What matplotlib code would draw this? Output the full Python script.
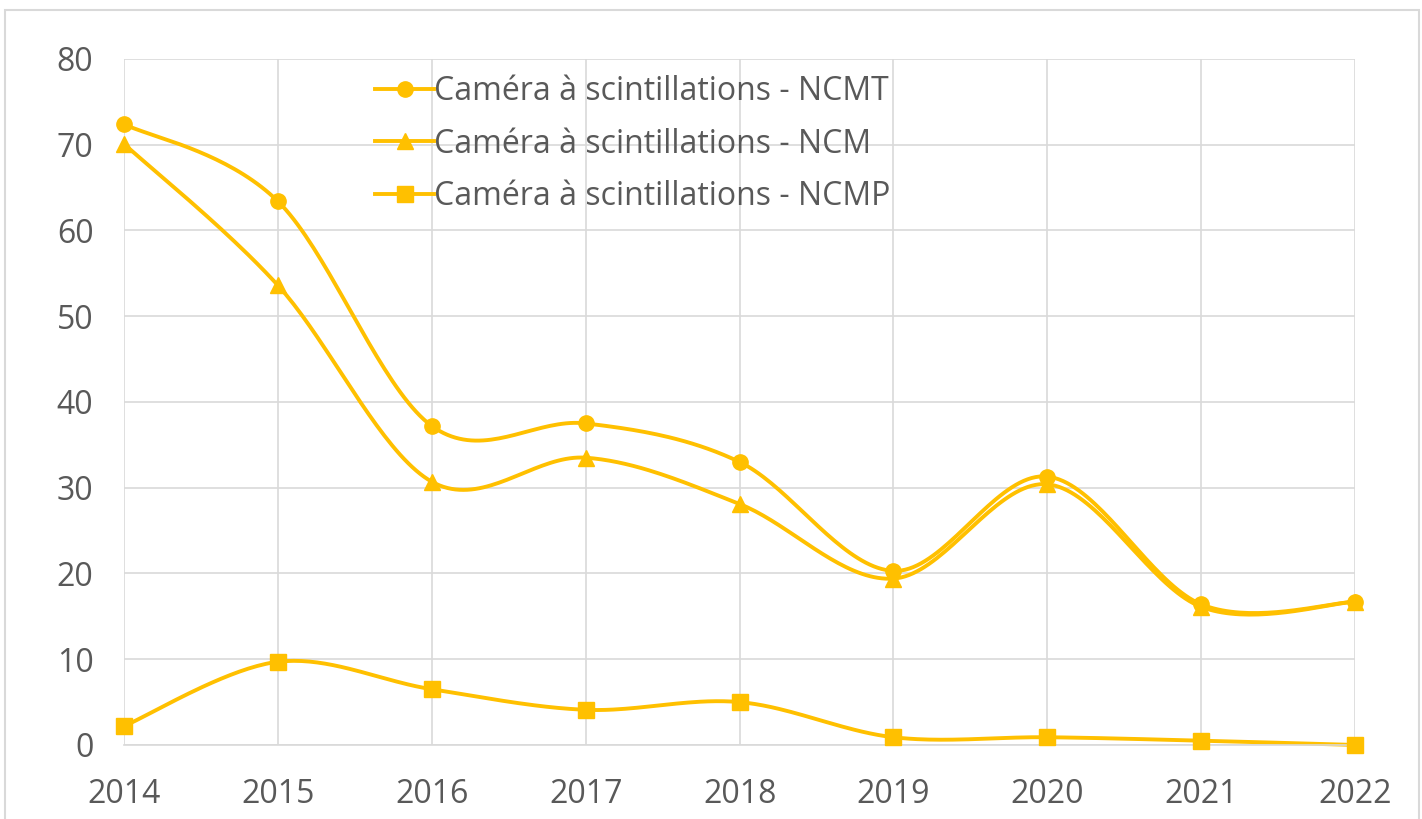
import numpy as np
import matplotlib.pyplot as plt
from matplotlib.patches import Rectangle

# data
years = [2014, 2015, 2016, 2017, 2018, 2019, 2020, 2021, 2022]
ncmt = [72.4, 63.4, 37.2, 37.5, 33.0, 20.3, 31.3, 16.4, 16.7]
ncm = [70.1, 53.6, 30.7, 33.5, 28.1, 19.4, 30.4, 16.1, 16.7]
ncmp = [2.2, 9.7, 6.5, 4.1, 5.0, 0.9, 0.9, 0.5, 0.0]
labels = ["Caméra à scintillations - NCMT",
          "Caméra à scintillations - NCM",
          "Caméra à scintillations - NCMP"]
yticks = [0, 10, 20, 30, 40, 50, 60, 70, 80]

COLOR = "#FFC000"
TEXT = "#595959"
GRID = "#D9D9D9"
plt.rcParams["font.family"] = ["Open Sans", "DejaVu Sans"]


def smooth(x, y, n=40):
    # Excel-like smoothed line: cubic bezier segments, catmull-rom style controls
    x = np.asarray(x, float)
    y = np.asarray(y, float)
    px = np.concatenate([[x[0]], x, [x[-1]]])
    py = np.concatenate([[y[0]], y, [y[-1]]])
    t = np.linspace(0, 1, n)[:, None]
    xs, ys = [], []
    for i in range(1, len(px) - 2):
        p0 = np.array([px[i], py[i]])
        p3 = np.array([px[i + 1], py[i + 1]])
        c1 = p0 + (p3 - np.array([px[i - 1], py[i - 1]])) / 6
        c2 = p3 - (np.array([px[i + 2], py[i + 2]]) - p0) / 6
        pts = ((1 - t) ** 3) * p0 + 3 * ((1 - t) ** 2) * t * c1 \
            + 3 * (1 - t) * t ** 2 * c2 + t ** 3 * p3
        xs.append(pts[:, 0])
        ys.append(pts[:, 1])
    return np.concatenate(xs), np.concatenate(ys)


fig = plt.figure(figsize=(14.22, 8.19), dpi=100)
ax = fig.add_axes([0.0872, 0.0904, 0.953 - 0.0872, 0.928 - 0.0904])

for vals, mk, lab in [(ncmt, "o", labels[0]), (ncm, "^", labels[1]), (ncmp, "s", labels[2])]:
    sx, sy = smooth(years, vals)
    ax.plot(sx, sy, color=COLOR, lw=2.8, clip_on=False, solid_capstyle="round")
    ax.plot(years, vals, linestyle="none", marker=mk, color=COLOR, ms=11,
            clip_on=False, zorder=3)
    ax.plot([], [], color=COLOR, lw=2.8, marker=mk, ms=11, label=lab)

ax.set_xlim(2014, 2022)
ax.set_ylim(0, 80)
ax.set_xticks(years)
ax.set_yticks(yticks)
ax.grid(True, color=GRID, lw=1.2)
ax.set_axisbelow(True)
for s in ["top", "right", "left"]:
    ax.spines[s].set_visible(False)
ax.spines["bottom"].set_color(GRID)
ax.spines["bottom"].set_linewidth(1.2)
ax.tick_params(axis="both", length=0, labelsize=23, labelcolor=TEXT)
ax.tick_params(axis="y", pad=22)
ax.tick_params(axis="x", pad=24)

ax.legend(loc="upper left", bbox_to_anchor=(0.186, 1.009), frameon=False,
          fontsize=23, labelcolor=TEXT, handlelength=1.85, handletextpad=0.0,
          labelspacing=0.61, borderaxespad=0.3)

fig.patches.append(Rectangle((5 / 1422, -0.02), 1414 / 1422, 1 - 10 / 819 + 0.02,
                             transform=fig.transFigure, fill=False,
                             edgecolor=GRID, lw=1.5))

fig.savefig("out.png", dpi=100)
